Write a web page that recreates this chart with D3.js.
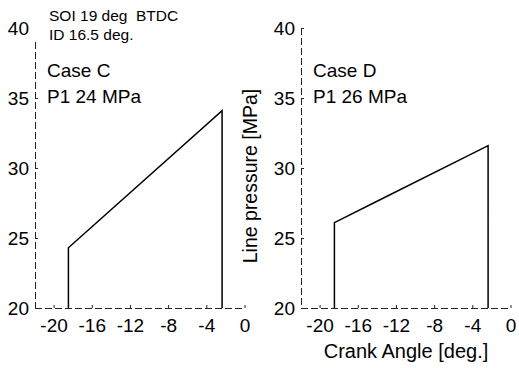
<!DOCTYPE html>
<html>
<head>
<meta charset="utf-8">
<script src="https://cdn.jsdelivr.net/npm/d3@7"></script>
<style>
  body { margin: 0; background: #fff; }
  svg { font-family: Arial, "Liberation Sans", sans-serif; }
  .axis-line { stroke: #222; stroke-width: 1; stroke-dasharray: 7,3; fill: none; }
  .tick-mark { stroke: #222; stroke-width: 1; }
  .trace { stroke: #000; stroke-width: 1.5; fill: none; }
  .tick-label { font-size: 19px; fill: #000; }
  .note { font-size: 19px; fill: #000; }
  .small-note { font-size: 15.5px; fill: #000; white-space: pre; }
  .axis-title { font-size: 19.5px; fill: #000; }
</style>
</head>
<body>
<svg id="chart"></svg>
<script>
(function() {
  'use strict';
  const W = 519;
  const H = 368;

  // values
  const angleTicks = [-20, -16, -12, -8, -4, 0];
  const pressureTicks = [20, 25, 30, 35, 40];
  const angleDomain = [-22, 0];
  const pressureDomain = [20, 40];

  const caseCAngle = [-18.5, -18.5, -2.4, -2.4];
  const caseCPressure = [20, 24.3, 34.1, 20];
  const caseDAngle = [-18.5, -18.5, -14.4, -2.4, -2.4];
  const caseDPressure = [20, 26.1, 27.5, 31.6, 20];

  const caseCNotes = ['Case C', 'P1 24 MPa'];
  const caseDNotes = ['Case D', 'P1 26 MPa'];
  const injectionNotes = ['SOI 19 deg  BTDC', 'ID 16.5 deg.'];

  const svg = d3.select('#chart')
    .attr('width', W)
    .attr('height', H);

  const y = d3.scaleLinear()
    .domain(pressureDomain)
    .range([308, 28]);

  const drawPanel = (left, right, angles, pressures, notes, axisTop) => {
    const x = d3.scaleLinear()
      .domain(angleDomain)
      .range([left, right]);

    const g = svg.append('g');

    // broken looking axes like the scan
    g.append('line')
      .attr('class', 'axis-line')
      .attr('x1', left + 0.5).attr('x2', left + 0.5)
      .attr('y1', y(axisTop)).attr('y2', y(20));

    g.append('line')
      .attr('class', 'axis-line')
      .attr('x1', left).attr('x2', right)
      .attr('y1', y(20) + 0.5).attr('y2', y(20) + 0.5);

    g.selectAll('.ytick')
      .data(pressureTicks.filter(d => d <= axisTop))
      .enter()
      .append('line')
      .attr('class', 'tick-mark')
      .attr('x1', left).attr('x2', left + 3)
      .attr('y1', d => y(d) + 0.5).attr('y2', d => y(d) + 0.5);

    g.selectAll('.xtick')
      .data(angleTicks)
      .enter()
      .append('line')
      .attr('class', 'tick-mark')
      .attr('x1', d => x(d)).attr('x2', d => x(d))
      .attr('y1', y(20)).attr('y2', y(20) - 3);

    g.selectAll('.ylabel')
      .data(pressureTicks)
      .enter()
      .append('text')
      .attr('class', 'tick-label')
      .attr('text-anchor', 'end')
      .attr('x', left - 6)
      .attr('y', d => y(d))
      .attr('dy', 7)
      .text(d => d);

    g.selectAll('.xlabel')
      .data(angleTicks)
      .enter()
      .append('text')
      .attr('class', 'tick-label')
      .attr('text-anchor', 'middle')
      .attr('x', d => x(d))
      .attr('y', 332)
      .text(d => d);

    const line = d3.line()
      .x(d => x(d[0]))
      .y(d => y(d[1]));

    g.append('path')
      .datum(d3.zip(angles, pressures))
      .attr('class', 'trace')
      .attr('d', line);

    g.selectAll('.note')
      .data(notes)
      .enter()
      .append('text')
      .attr('class', 'note')
      .attr('x', left + 12)
      .attr('y', (d, i) => 77 + i * 26)
      .text(d => d);

    return x;
  };

  drawPanel(35, 245, caseCAngle, caseCPressure, caseCNotes, 39);
  drawPanel(301, 511, caseDAngle, caseDPressure, caseDNotes, 40);

  svg.selectAll('.small-note')
    .data(injectionNotes)
    .enter()
    .append('text')
    .attr('class', 'small-note')
    .attr('x', 49)
    .attr('y', (d, i) => 21 + i * 19)
    .text(d => d);

  svg.append('text')
    .attr('class', 'axis-title')
    .attr('text-anchor', 'middle')
    .attr('transform', 'translate(257,176) rotate(-90)')
    .text('Line pressure [MPa]');

  svg.append('text')
    .attr('class', 'axis-title')
    .attr('text-anchor', 'middle')
    .attr('x', 406)
    .attr('y', 358)
    .style('font-size', '20px')
    .text('Crank Angle [deg.]');
})();
</script>
</body>
</html>
